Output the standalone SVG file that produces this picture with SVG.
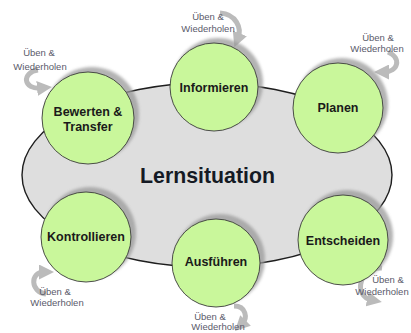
<svg xmlns="http://www.w3.org/2000/svg" width="411" height="333" viewBox="0 0 411 333">
<style>
.node{fill:#c9f79b;stroke:#3a3a3a;stroke-width:0.9}
.shadow{fill:#9a9a9a;opacity:0.75}
.lbl{font-family:"Liberation Sans",Arial,sans-serif;font-weight:bold;font-size:12.5px;fill:#1a1a1a;text-anchor:middle}
.small{font-family:"Liberation Sans",Arial,sans-serif;font-size:9.5px;fill:#5a5a6a;text-anchor:middle}
.loop{fill:none;stroke:#bbbbbb;stroke-width:5;stroke-linecap:butt}
</style>
<defs>
<filter id="blur" x="-20%" y="-20%" width="140%" height="140%"><feGaussianBlur stdDeviation="1.5"/></filter>
<marker id="ah" markerWidth="3" markerHeight="3" refX="1" refY="1.5" orient="auto" markerUnits="strokeWidth"><path d="M0,0 L3,1.5 L0,3 z" fill="#bbbbbb"/></marker>
</defs>
<rect width="411" height="333" fill="#ffffff"/>
<g id="ellipse">
<ellipse cx="207" cy="175" rx="185" ry="92" fill="#dedede" stroke="#1e1e1e" stroke-width="1.4"/>
<text x="207.5" y="183" font-family="Liberation Sans,Arial,sans-serif" font-weight="bold" font-size="21.3" fill="#151a24" text-anchor="middle">Lernsituation</text>
</g>
<g id="connectors">
<path class="loop" d="M220 13 C236 14 242 28 238 38" marker-end="url(#ah)"/>
<path class="loop" d="M38 70 C22 72 22 90 42 88" marker-end="url(#ah)"/>
<path class="loop" d="M388 52 C402 58 398 72 384 72" marker-end="url(#ah)"/>
<path class="loop" d="M46 294 C30 292 30 272 44 272" marker-end="url(#ah)"/>
<path class="loop" d="M382 268 C360 266 352 296 372 300" marker-end="url(#ah)"/>
<path class="loop" d="M234 306 C246 306 248 318 242 324" marker-end="url(#ah)"/>
<text class="small" x="208" y="20">Üben &amp;</text><text class="small" x="208" y="32">Wiederholen</text>
<text class="small" x="39" y="56">Üben &amp;</text><text class="small" x="40" y="70">Wiederholen</text>
<text class="small" x="378" y="41">Üben &amp;</text><text class="small" x="377" y="52">Wiederholen</text>
<text class="small" x="55" y="295">Üben &amp;</text><text class="small" x="57" y="306">Wiederholen</text>
<text class="small" x="388" y="283">Üben &amp;</text><text class="small" x="382" y="295">Wiederholen</text>
<text class="small" x="210" y="320">Üben &amp;</text><text class="small" x="218" y="330">Wiederholen</text>
</g>
<g id="bewerten">
<circle class="shadow" cx="92" cy="114" r="47" filter="url(#blur)"/>
<circle class="node" cx="88" cy="118" r="46"/>
<text class="lbl" x="88" y="116">Bewerten &amp;</text><text class="lbl" x="88" y="131">Transfer</text>
</g>
<g id="informieren">
<circle class="shadow" cx="218" cy="83" r="45" filter="url(#blur)"/>
<circle class="node" cx="214" cy="87" r="44"/>
<text class="lbl" x="214" y="92">Informieren</text>
</g>
<g id="planen">
<circle class="shadow" cx="342" cy="104" r="46" filter="url(#blur)"/>
<circle class="node" cx="338" cy="108" r="45"/>
<text class="lbl" x="338" y="112">Planen</text>
</g>
<g id="kontrollieren">
<circle class="shadow" cx="90" cy="233" r="46" filter="url(#blur)"/>
<circle class="node" cx="86" cy="237" r="45"/>
<text class="lbl" x="86" y="241">Kontrollieren</text>
</g>
<g id="ausfuehren">
<circle class="shadow" cx="220" cy="259" r="45" filter="url(#blur)"/>
<circle class="node" cx="216" cy="263" r="44"/>
<text class="lbl" x="216" y="266">Ausführen</text>
</g>
<g id="entscheiden">
<circle class="shadow" cx="347" cy="236" r="46" filter="url(#blur)"/>
<circle class="node" cx="343" cy="240" r="45"/>
<text class="lbl" x="343" y="245">Entscheiden</text>
</g>
</svg>
